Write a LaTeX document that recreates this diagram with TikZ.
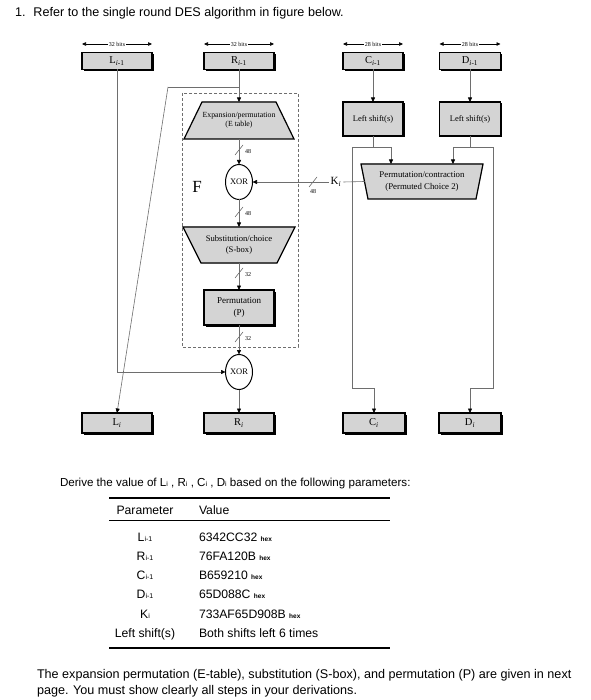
\documentclass[tikz,border=0pt]{standalone}
\usepackage{fontspec}
\setmainfont{Liberation Sans}
\newfontfamily\dfont{Liberation Serif}
\usetikzlibrary{arrows.meta,shadows,shapes.geometric,backgrounds,calc}
\definecolor{boxgray}{HTML}{D4D4D4}
\definecolor{wire}{HTML}{6E6E6E}
\newcommand\myfs[2]{\fontsize{#1}{#2}\selectfont}
\newcommand\trapshape[3]{%
  \fill[black,xshift=1.5pt,yshift=-1.5pt] ([xshift=#2]#1.north west) -- ([xshift=-#2]#1.north east) -- ([xshift=-#3]#1.south east) -- ([xshift=#3]#1.south west) -- cycle;
  \draw[line width=1.2pt,fill=boxgray] ([xshift=#2]#1.north west) -- ([xshift=-#2]#1.north east) -- ([xshift=-#3]#1.south east) -- ([xshift=#3]#1.south west) -- cycle;}
\begin{document}
\begin{tikzpicture}[x=1pt,y=-1pt,
  every node/.style={inner sep=0pt,outer sep=0pt},
  blk/.style={draw=black,line width=1.2pt,fill=boxgray,align=center,
    font=\dfont\myfs{10.5}{11},
    drop shadow={shadow xshift=1.5pt,shadow yshift=-1.5pt,opacity=1,fill=black}},
  trapbox/.style={align=center,minimum width=#1},
  xor/.style={ellipse,draw=black,line width=1pt,fill=white,font=\dfont\myfs{8.5}{9},minimum width=27pt,minimum height=35pt},
  wire/.style={draw=wire,line width=0.6pt},
  arr/.style={-{Triangle[length=4.5pt,width=4pt,color=black,fill=black]}},
  bitarr/.style={draw=black,line width=0.6pt,-{Triangle[length=4pt,width=3.5pt]}},
  bits/.style={font=\dfont\myfs{6}{7},inner xsep=1pt},
  tiny/.style={font=\dfont\myfs{6}{7}},
  txt/.style={font=\myfs{12.6}{15},anchor=base west},
  dtxt/.style={font=\myfs{11.6}{14},anchor=base west},
  tab/.style={font=\myfs{12.2}{14},anchor=base},
  tabv/.style={font=\myfs{12.2}{14},anchor=base west}
]
\useasboundingbox (0,0) rectangle (590,700);

% title
\node[txt] (title) at (15,17) {1.\hspace{8pt}Refer to the single round DES algorithm in figure below.};

% top boxes
\node[blk,minimum width=70pt,minimum height=17pt] (L1) at (117,61) {L\textsubscript{\textit{i}-1}};
\node[blk,minimum width=70pt,minimum height=17pt] (R1) at (239,61) {R\textsubscript{\textit{i}-1}};
\node[blk,minimum width=60pt,minimum height=17pt] (C1) at (373,61) {C\textsubscript{\textit{i}-1}};
\node[blk,minimum width=61pt,minimum height=17pt] (D1) at (470,61) {D\textsubscript{\textit{i}-1}};

% bits arrows
\node[bits] (b1) at (117,44) {32 bits};
\node[bits] (b2) at (239,44) {32 bits};
\node[bits] (b3) at (373,44) {28 bits};
\node[bits] (b4) at (470,44) {28 bits};
\foreach \b/\n in {b1/L1,b2/R1,b3/C1,b4/D1}{
  \draw[bitarr] (\b.west) -- (\n.west |- \b.west);
  \draw[bitarr] (\b.east) -- (\n.east |- \b.east);
}

% left shift boxes
\node[blk,font=\dfont\myfs{8.5}{10},minimum width=60pt,minimum height=34pt] (LS1) at (373,119) {Left shift(s)};
\node[blk,font=\dfont\myfs{8.5}{10},minimum width=61pt,minimum height=34pt] (LS2) at (470,119) {Left shift(s)};

% F dashed box
\draw[wire,dashed,dash pattern=on 3pt off 2pt] (182,93) rectangle (298,347);
\node[font=\dfont\myfs{17}{17}] (F) at (197,187) {F};

% function blocks
\node[trapbox=110pt,minimum height=37pt,font=\dfont\myfs{7.8}{9}] (E) at (239,120.5) {Expansion/permutation\\(E table)};
\node[xor] (X1) at (239,182) {XOR};
\node[trapbox=112pt,minimum height=36pt,font=\dfont\myfs{8.6}{11}] (S) at (239,245) {Substitution/choice\\(S-box)};
\node[blk,font=\dfont\myfs{9}{12},minimum width=70pt,minimum height=35pt] (P) at (239,307.5) {Permutation\\(P)};
\node[xor] (X2) at (239,372) {XOR};
\node[trapbox=122pt,minimum height=35pt,font=\dfont\myfs{8.8}{11.5}] (PC) at (422,181.5) {Permutation/contraction\\(Permuted Choice 2)};
\begin{scope}[on background layer]
  \fill[white] (0,0) rectangle (590,700);
  \trapshape{E}{18pt}{0pt}
  \trapshape{S}{0pt}{18pt}
  \trapshape{PC}{0pt}{7pt}
\end{scope}

% bottom boxes
\node[blk,minimum width=70pt,minimum height=20pt] (Li) at (117,423) {L\textsubscript{\textit{i}}};
\node[blk,minimum width=70pt,minimum height=20pt] (Ri) at (239,423) {R\textsubscript{\textit{i}}};
\node[blk,minimum width=62pt,minimum height=20pt] (Ci) at (374,423) {C\textsubscript{\textit{i}}};
\node[blk,minimum width=62pt,minimum height=20pt] (Di) at (470,423) {D\textsubscript{\textit{i}}};

% connectors in F column
\draw[wire,arr] (R1) -- (E);
\coordinate (rb) at (239,87);
\coordinate (rb2) at (168,87);
\draw[wire] (rb) -- (rb2);
\draw[wire,arr] (rb2) -- (Li.north);
\draw[wire,arr] (E) -- (X1);
\draw[wire,arr] (X1) -- (S);
\draw[wire,arr] (S) -- (P);
\draw[wire,arr] (P) -- (X2);
\draw[wire,arr] (X2) -- (Ri);
\draw[wire,arr] (L1.south) |- (X2.west);

% slashes
\draw[wire] (235,155) -- (243,145); \node[tiny,anchor=west] (n1) at (245,152) {48};
\draw[wire] (235,217) -- (243,207); \node[tiny,anchor=west] (n2) at (245,214) {48};
\draw[wire] (235,278) -- (243,268); \node[tiny,anchor=west] (n3) at (245,275) {32};
\draw[wire] (235,342) -- (243,332); \node[tiny,anchor=west] (n4) at (245,339) {32};

% K_i
\node[font=\dfont\myfs{11}{11},inner xsep=2pt] (Ki) at (336,182) {K\textsubscript{\textit{i}}};
\draw[wire] ([xshift=3.5pt]PC.west) -- (Ki.east);
\draw[wire,arr] (Ki.west) -- (X1.east);
\draw[wire] (309,187) -- (317,177);
\node[tiny] (n5) at (313,192) {48};

% key schedule connectors
\draw[wire,arr] (C1) -- (LS1);
\draw[wire,arr] (D1) -- (LS2);
\coordinate (cj) at (373,147);
\coordinate (dj) at (470,147);
\coordinate (cl) at (352,388);
\coordinate (dr) at (493,388);
\draw[wire] (LS1.south) -- (cj);
\draw[wire] (LS2.south) -- (dj);
\draw[wire,arr] (cj) -| ([xshift=-31pt]PC.north);
\draw[wire,arr] (dj) -| ([xshift=31pt]PC.north);
\draw[wire,arr] (cj) -| (cl) -| (Ci.north);
\draw[wire,arr] (dj) -| (dr) -| (Di.north);

% text below
\node[dtxt] (derive) at (60,486) {Derive the value of L{\myfs{7}{8}i} , R{\myfs{7}{8}i} , C{\myfs{7}{8}i} , D{\myfs{7}{8}i} based on the following parameters:};

\draw[line width=1.3pt] (109,498) -- (390,498);
\draw[line width=1pt] (109,520) -- (390,520);
\draw[line width=1.3pt] (109,648) -- (390,648);

\node[tab] (h1) at (145,514) {Parameter};
\node[tabv] (h2) at (199,514) {Value};

\node[tab] (p1) at (145,541) {L{\myfs{7}{8}i-1}};
\node[tab] (p2) at (145,560) {R{\myfs{7}{8}i-1}};
\node[tab] (p3) at (145,579) {C{\myfs{7}{8}i-1}};
\node[tab] (p4) at (145,598) {D{\myfs{7}{8}i-1}};
\node[tab] (p5) at (145,618) {K{\myfs{7}{8}i}};
\node[tab] (p6) at (145,637) {Left shift(s)};

\node[tabv] (v1) at (199,541) {6342CC32 {\myfs{6.5}{8}\bfseries hex}};
\node[tabv] (v2) at (199,560) {76FA120B {\myfs{6.5}{8}\bfseries hex}};
\node[tabv] (v3) at (199,579) {B659210 {\myfs{6.5}{8}\bfseries hex}};
\node[tabv] (v4) at (199,598) {65D088C {\myfs{6.5}{8}\bfseries hex}};
\node[tabv] (v5) at (199,618) {733AF65D908B {\myfs{6.5}{8}\bfseries hex}};
\node[tabv] (v6) at (199,637) {Both shifts left 6 times};

\node[txt] (foot1) at (37,678) {The expansion permutation (E-table), substitution (S-box), and permutation (P) are given in next};
\node[txt] (foot2) at (37,694) {page. You must show clearly all steps in your derivations.};
\end{tikzpicture}
\end{document}
